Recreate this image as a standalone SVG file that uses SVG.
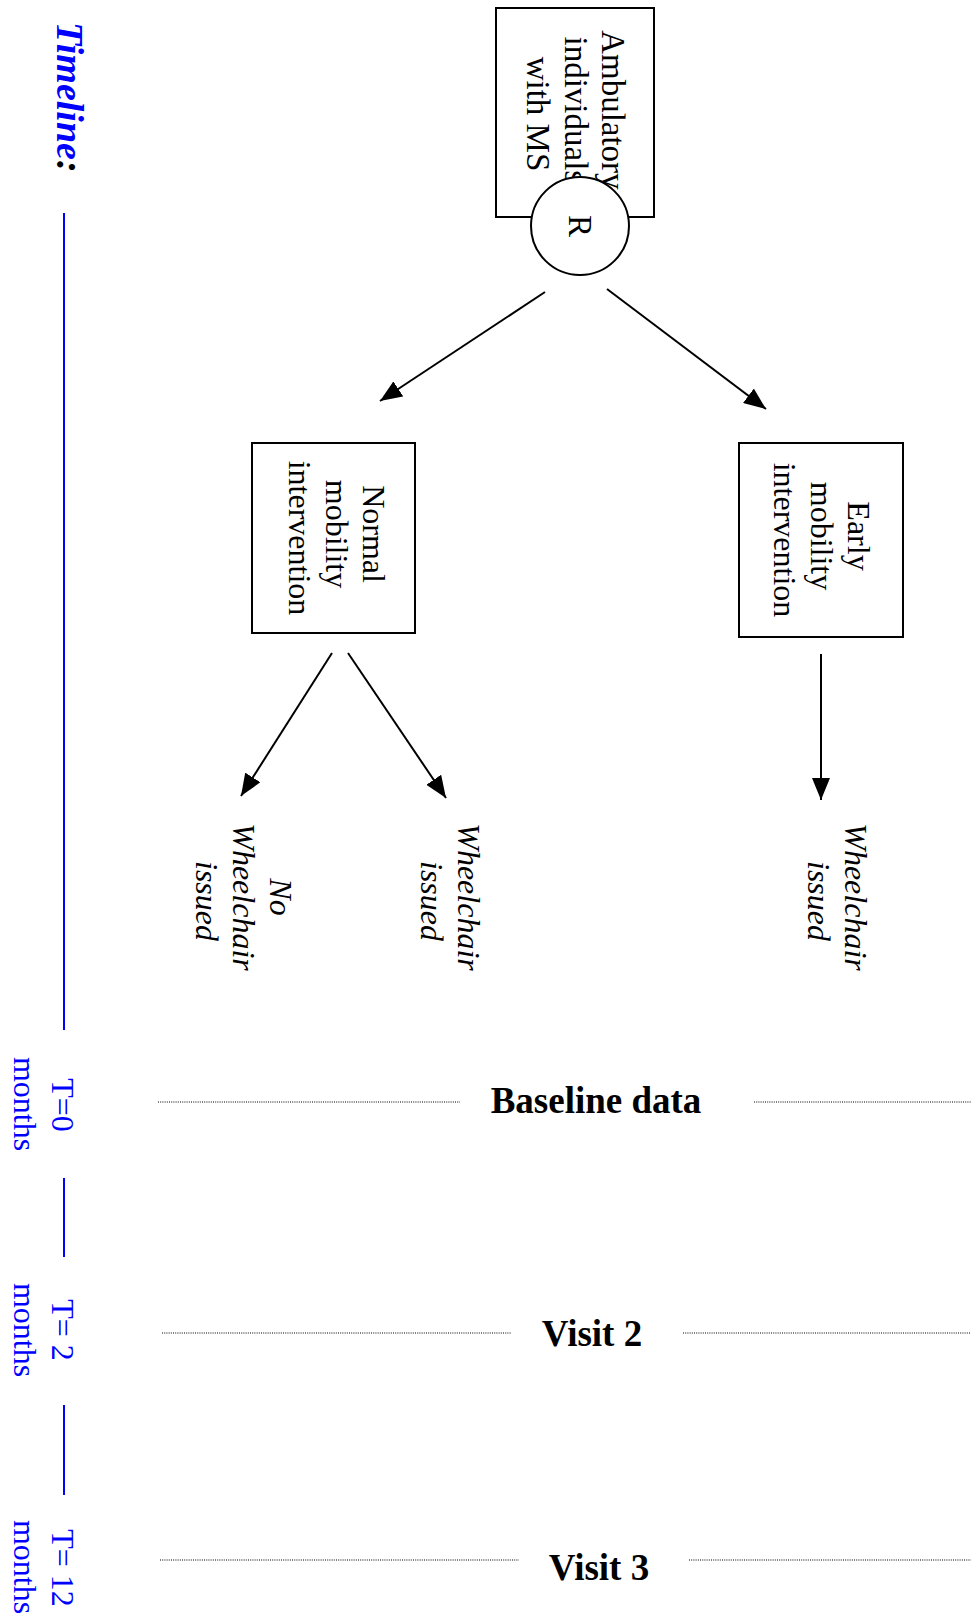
<svg xmlns="http://www.w3.org/2000/svg" width="973" height="1619" viewBox="0 0 973 1619">
<style>
.box{fill:#fff;stroke:#000;stroke-width:2}
.t{font-family:"Liberation Serif",serif;font-size:32px;fill:#000;text-anchor:middle}
.ta{font-family:"Liberation Serif",serif;font-size:33px;fill:#000;text-anchor:middle}
.it{font-family:"Liberation Serif",serif;font-size:32px;font-style:italic;fill:#000;text-anchor:middle}
.blue{font-family:"Liberation Serif",serif;font-size:32px;fill:#0000ff;text-anchor:middle}
.hd{font-family:"Liberation Serif",serif;font-size:37px;font-weight:bold;fill:#000;text-anchor:middle}
.conn{stroke:#000;stroke-width:2;fill:none;marker-end:url(#ah)}
.dot{stroke:#000;stroke-width:1.2;stroke-dasharray:1 1.2;fill:none}
.tl{stroke:#0000ff;stroke-width:2}
</style>
<defs>
<marker id="ah" markerUnits="userSpaceOnUse" markerWidth="24" markerHeight="18" refX="22" refY="9" orient="auto">
<path d="M0,0 L22,9 L0,18 Z" fill="#000"/>
</marker>
</defs>
<rect width="973" height="1619" fill="#fff"/>

<g id="timeline">
<text x="57" y="22" transform="rotate(90 57 22)" style="font-family:'Liberation Serif',serif;font-size:38px;font-weight:bold;font-style:italic;fill:#0000ff">Timeline<tspan fill="#000">:</tspan></text>
<line class="tl" x1="64" y1="213" x2="64" y2="1030"/>
<line class="tl" x1="64" y1="1178" x2="64" y2="1257"/>
<line class="tl" x1="64" y1="1405" x2="64" y2="1495"/>
<text class="blue" x="52" y="1105" transform="rotate(90 52 1105)">T=0</text>
<text class="blue" x="14" y="1104" transform="rotate(90 14 1104)">months</text>
<text class="blue" x="52" y="1330" transform="rotate(90 52 1330)">T= 2</text>
<text class="blue" x="14" y="1330" transform="rotate(90 14 1330)">months</text>
<text class="blue" x="52" y="1568" transform="rotate(90 52 1568)">T= 12</text>
<text class="blue" x="14" y="1567" transform="rotate(90 14 1567)">months</text>
</g>

<g id="connectors">
<line class="conn" x1="545" y1="292" x2="380" y2="401"/>
<line class="conn" x1="607" y1="289" x2="766" y2="409"/>
<line class="conn" x1="332" y1="653" x2="241" y2="796"/>
<line class="conn" x1="348" y1="653" x2="446" y2="798"/>
<line class="conn" x1="821" y1="654" x2="821" y2="800"/>
</g>

<g id="ambulatory">
<rect class="box" x="496" y="8" width="158" height="209"/>
<text class="ta" transform="rotate(90 0 0)">
<tspan x="114" y="-602">Ambulatory</tspan>
<tspan x="114" y="-565">individuals</tspan>
<tspan x="114" y="-527">with MS</tspan>
</text>
</g>

<g id="randomise">
<circle cx="580" cy="226" r="49" fill="#fff" stroke="#000" stroke-width="2"/>
<text class="ta" x="569" y="226" transform="rotate(90 569 226)">R</text>
</g>

<g id="normal">
<rect class="box" x="252" y="443" width="163" height="190"/>
<text class="t" transform="rotate(90 0 0)">
<tspan x="538" y="-363">Normal</tspan>
<tspan x="538" y="-326">mobility</tspan>
<tspan x="538" y="-289">intervention</tspan>
</text>
</g>

<g id="early">
<rect class="box" x="739" y="443" width="164" height="194"/>
<text class="t" transform="rotate(90 0 0)">
<tspan x="540" y="-848">Early</tspan>
<tspan x="540" y="-811">mobility</tspan>
<tspan x="540" y="-774">intervention</tspan>
</text>
</g>

<g id="no-wheelchair">
<text class="it" transform="rotate(90 0 0)">
<tspan x="901" y="-270">No</tspan>
<tspan x="901" y="-233">Wheelchair</tspan>
<tspan x="901" y="-196">issued</tspan>
</text>
</g>

<g id="wheelchair-normal">
<text class="it" transform="rotate(90 0 0)">
<tspan x="901" y="-458">Wheelchair</tspan>
<tspan x="901" y="-421">issued</tspan>
</text>
</g>

<g id="wheelchair-early">
<text class="it" transform="rotate(90 0 0)">
<tspan x="901" y="-845">Wheelchair</tspan>
<tspan x="901" y="-808">issued</tspan>
</text>
</g>

<g id="baseline">
<line class="dot" x1="158" y1="1102" x2="460" y2="1102"/>
<line class="dot" x1="754" y1="1102" x2="971" y2="1102"/>
<text class="hd" x="596" y="1113">Baseline data</text>
</g>

<g id="visit2">
<line class="dot" x1="162" y1="1333" x2="511" y2="1333"/>
<line class="dot" x1="683" y1="1333" x2="971" y2="1333"/>
<text class="hd" x="592" y="1346">Visit 2</text>
</g>

<g id="visit3">
<line class="dot" x1="160" y1="1560" x2="519" y2="1560"/>
<line class="dot" x1="689" y1="1560" x2="971" y2="1560"/>
<text class="hd" x="599" y="1580">Visit 3</text>
</g>
</svg>
